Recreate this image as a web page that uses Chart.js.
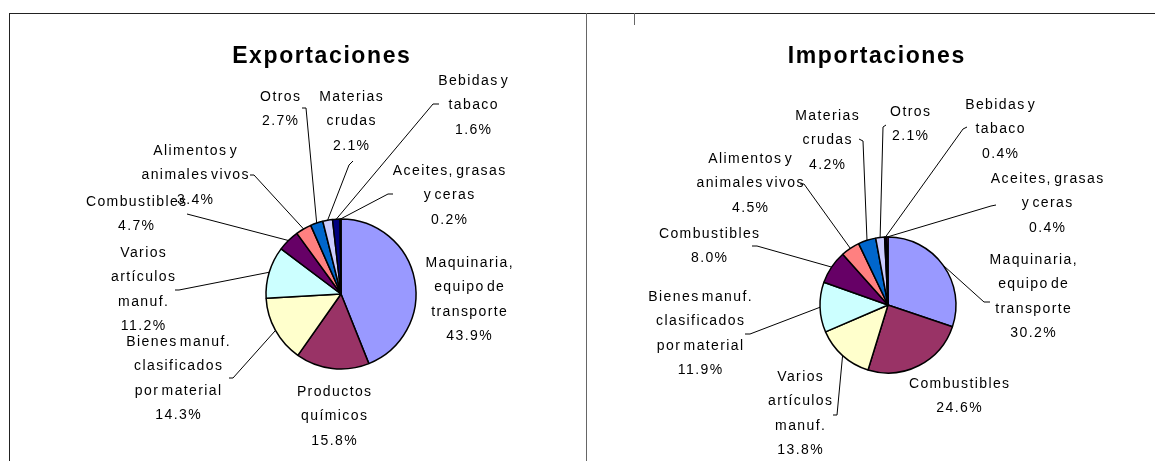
<!DOCTYPE html>
<html>
<head>
<meta charset="utf-8">
<script src="https://cdn.jsdelivr.net/npm/chart.js@4.4.1/dist/chart.umd.min.js"></script>
<style>
  html, body { margin: 0; padding: 0; background: #fff; }
  #page { position: relative; width: 1155px; height: 461px; overflow: hidden; }
  #page canvas { position: absolute; left: 0; top: 0; }
  .rule { position: absolute; background: #222; }
</style>
</head>
<body>
<div id="page">
  <div class="rule" style="left:9px;top:13px;width:1146px;height:1px"></div>
  <div class="rule" style="left:9px;top:13px;width:1px;height:448px"></div>
  <div class="rule" style="left:586px;top:13px;width:1px;height:448px;background:#666"></div>
  <div class="rule" style="left:634px;top:13px;width:1px;height:12px;background:#666"></div>
  <canvas id="exp" width="1155" height="461"></canvas>
  <canvas id="imp" width="1155" height="461"></canvas>
</div>
<script>
// ---- data -------------------------------------------------------------
const SLICE_COLORS = ['#9999FF', '#993366', '#FFFFCC', '#CCFFFF', '#660066',
                      '#FF8080', '#0066CC', '#CCCCFF', '#000080', '#FF00FF'];

const expCategories = [
  ['Maquinaria,', 'equipo de', 'transporte'],
  ['Productos', 'químicos'],
  ['Bienes manuf.', 'clasificados', 'por material'],
  ['Varios', 'artículos', 'manuf.'],
  ['Combustibles'],
  ['Alimentos y', 'animales vivos'],
  ['Otros'],
  ['Materias', 'crudas'],
  ['Bebidas y', 'tabaco'],
  ['Aceites, grasas', 'y ceras']
];
const expValues = [43.9, 15.8, 14.3, 11.2, 4.7, 3.4, 2.7, 2.1, 1.6, 0.2];

const impCategories = [
  ['Maquinaria,', 'equipo de', 'transporte'],
  ['Combustibles'],
  ['Varios', 'artículos', 'manuf.'],
  ['Bienes manuf.', 'clasificados', 'por material'],
  ['Combustibles'],
  ['Alimentos y', 'animales vivos'],
  ['Materias', 'crudas'],
  ['Otros'],
  ['Bebidas y', 'tabaco'],
  ['Aceites, grasas', 'y ceras']
];
const impValues = [30.2, 24.6, 13.8, 11.9, 8.0, 4.5, 4.2, 2.1, 0.4, 0.4];

// ---- label layout (page px): label centre x / first line y, leader ticks
const expLabelPos = [[469, 263], [334, 392], [178, 342], [143, 253], [136, 202],
                     [195, 151], [280, 97], [351, 97], [473, 81], [449, 171]];
const expLeaders = [null, null,
  [[229, 378], [233, 378]], [[175, 290], [179, 290]], [[187, 214]],
  [[250, 175], [254, 175]], [[302, 108], [306, 108]], [[353, 161], [349, 165]],
  [[439, 104], [433, 104]], [[393, 194], [388, 194]]];

const impLabelPos = [[1033, 260], [959, 384], [800, 377], [700, 297], [709, 234],
                     [750, 159], [827, 116], [910, 112], [1000, 105], [1047, 179]];
const impLeaders = [[[990, 302], [984, 302]], null,
  [[833, 415], [837, 415]], [[745, 334], [750, 334]], [[752, 246], [757, 246]],
  [[800, 184], [804, 184]], [[859, 139], [863, 141]], [[886, 125], [883, 127]],
  [[967, 127], [963, 129]], [[996, 205], [991, 206]]];

const W = 1155, H = 461;
const LINE_H = 24.5;

// labels, leader lines and title, drawn on top of the pie
const pieLabels = {
  id: 'pieLabels',
  afterDatasetsDraw(chart, args, opts) {
    const ctx = chart.ctx;
    const arcs = chart.getDatasetMeta(0).data;
    ctx.save();

    ctx.fillStyle = '#000';
    ctx.textAlign = 'center';
    ctx.font = 'bold 23px "Liberation Sans", Arial, sans-serif';
    ctx.letterSpacing = '1.6px';
    ctx.textBaseline = 'alphabetic';
    ctx.fillText(opts.title, opts.titleX + 0.8, 63);

    ctx.strokeStyle = '#000';
    ctx.lineWidth = 1;
    arcs.forEach((arc, i) => {
      const pts = opts.leaders[i];
      if (!pts) return;
      const p = arc.getProps(['x', 'y', 'startAngle', 'endAngle', 'outerRadius'], true);
      const mid = (p.startAngle + p.endAngle) / 2;
      ctx.beginPath();
      ctx.moveTo(pts[0][0], pts[0][1]);
      pts.slice(1).forEach(q => ctx.lineTo(q[0], q[1]));
      ctx.lineTo(p.x + Math.cos(mid) * p.outerRadius, p.y + Math.sin(mid) * p.outerRadius);
      ctx.stroke();
    });

    ctx.font = '14px "Liberation Sans", Arial, sans-serif';
    ctx.letterSpacing = '1.4px';
    ctx.wordSpacing = '-3px';
    ctx.textBaseline = 'middle';
    const values = chart.data.datasets[0].data;
    opts.categories.forEach((lines, i) => {
      const [cx, cy] = opts.positions[i];
      const all = lines.concat(values[i].toFixed(1) + '%');
      all.forEach((t, k) => ctx.fillText(t, cx + 0.7, cy + k * LINE_H));
    });
    ctx.restore();
  }
};

function makePie(id, values, categories, centre, radius, plugOpts) {
  const [cx, cy] = centre;
  new Chart(document.getElementById(id), {
    type: 'pie',
    data: {
      labels: categories.map(c => c.join(' ')),
      datasets: [{
        data: values,
        backgroundColor: SLICE_COLORS,
        borderColor: '#000',
        borderWidth: 1.5,
        radius: radius
      }]
    },
    options: {
      responsive: false,
      animation: false,
      events: [],
      layout: {
        padding: { left: cx - radius, right: W - cx - radius, top: cy - radius, bottom: H - cy - radius }
      },
      plugins: {
        legend: { display: false },
        tooltip: { enabled: false },
        pieLabels: Object.assign({ categories }, plugOpts)
      }
    },
    plugins: [pieLabels]
  });
}

makePie('exp', expValues, expCategories, [341, 294], 75,
  { title: 'Exportaciones', titleX: 321, positions: expLabelPos, leaders: expLeaders });
makePie('imp', impValues, impCategories, [888, 305], 68,
  { title: 'Importaciones', titleX: 876, positions: impLabelPos, leaders: impLeaders });
</script>
</body>
</html>
